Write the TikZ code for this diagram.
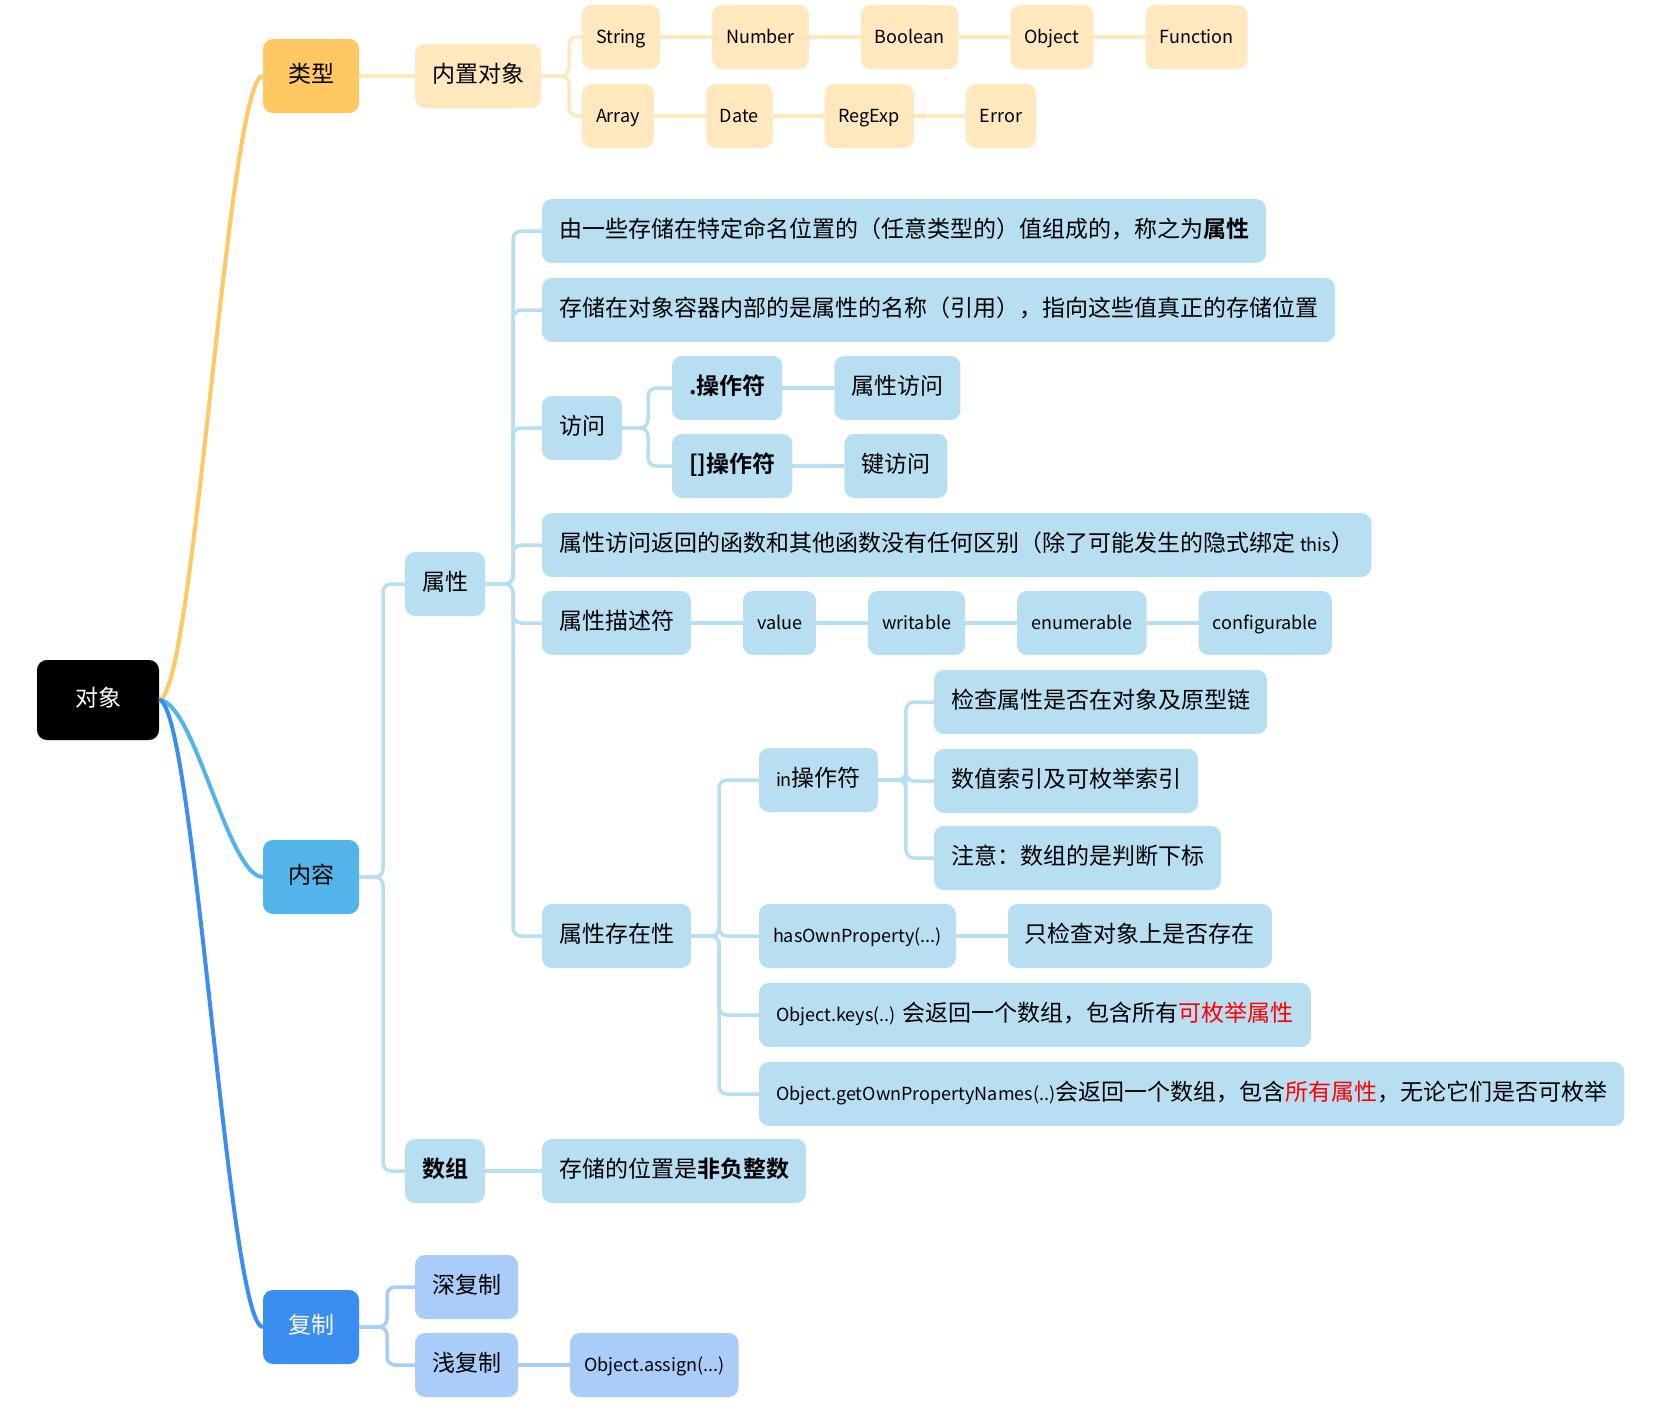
\documentclass[tikz,border=0pt]{standalone}
\usepackage{fontspec}
\setmainfont{Noto Sans CJK SC}[BoldFont={Noto Sans CJK SC Bold}]
\usetikzlibrary{positioning}

\definecolor{typeor}{HTML}{FFC862}
\definecolor{typelt}{HTML}{FFE7BE}
\definecolor{contbl}{HTML}{52B4E9}
\definecolor{contlt}{HTML}{B8DEF2}
\definecolor{copybl}{HTML}{3A8EEF}
\definecolor{copylt}{HTML}{A9CDF8}

\newcommand\lat[1]{{\fontsize{18}{26}\selectfont #1}}

\tikzset{
  box/.style={rounded corners=9pt, minimum height=62pt, inner xsep=16pt, inner ysep=2pt,
    text height=18pt, text depth=5pt, line width=2pt, font=\fontsize{23}{27}\selectfont},
  latin/.style={font=\fontsize{18}{27}\selectfont, inner xsep=13pt},
  topic/.style={box, minimum height=72pt, minimum width=94pt},
  orbox/.style={box, fill=typelt, draw=typelt},
  blbox/.style={box, fill=contlt, draw=contlt},
  cpbox/.style={box, fill=copylt, draw=copylt},
  orlink/.style={typelt, line width=3.5pt, rounded corners=8pt},
  bllink/.style={contlt, line width=3.5pt, rounded corners=8pt},
  cplink/.style={copylt, line width=3.5pt, rounded corners=8pt},
}

\begin{document}
\begin{tikzpicture}[x=1pt, y=-1pt]
      \useasboundingbox (0,0) rectangle (1673,1406);
      \node [topic, fill=black, draw=black, text=white, minimum width=120pt, minimum height=78pt] (obj) at (98,700) {对象};
      \node [topic, anchor=west, fill=typeor, draw=typeor] (type) at (263,76) {类型};
      \node [topic, anchor=west, fill=contbl, draw=contbl] (cont) at (263,877) {内容};
      \node [topic, anchor=west, fill=copybl, draw=copybl, text=white] (copy) at (263,1327) {复制};
      \draw [typeor, line width=4pt] (obj.east) .. controls +(35,0) and +(-35,0) .. (type.west);
      \draw [contbl, line width=4pt] (obj.east) .. controls +(35,0) and +(-35,0) .. (cont.west);
      \draw [copybl, line width=4pt] (obj.east) .. controls +(35,0) and +(-35,0) .. (copy.west);

      \node [orbox, anchor=west] (builtin) at (415,76) {内置对象};
      \node [orbox, latin, anchor=west] (str) at (582,37) {String};
      \node [orbox, latin, right=52pt of str] (num) {Number};
      \node [orbox, latin, right=52pt of num] (bool) {Boolean};
      \node [orbox, latin, right=52pt of bool] (objt) {Object};
      \node [orbox, latin, right=52pt of objt] (func) {Function};
      \node [orbox, latin, anchor=west] (arr) at (582,116) {Array};
      \node [orbox, latin, right=52pt of arr] (date) {Date};
      \node [orbox, latin, right=52pt of date] (regx) {RegExp};
      \node [orbox, latin, right=52pt of regx] (err) {Error};
      \draw [orlink] (type.east) -- (builtin.west);
      \draw [orlink] (builtin.east) -- ++(28,0) |- (str.west);
      \draw [orlink] (builtin.east) -- ++(28,0) |- (arr.west);
      \draw [orlink] (str.east) -- (num.west);
      \draw [orlink] (num.east) -- (bool.west);
      \draw [orlink] (bool.east) -- (objt.west);
      \draw [orlink] (objt.east) -- (func.west);
      \draw [orlink] (arr.east) -- (date.west);
      \draw [orlink] (date.east) -- (regx.west);
      \draw [orlink] (regx.east) -- (err.west);

      \node [blbox, anchor=west] (prop) at (405,584) {属性};
      \node [blbox, anchor=west] (arry) at (405,1171) {\textbf{数组}};
      \draw [bllink] (cont.east) -- ++(24,0) |- (prop.west);
      \draw [bllink] (cont.east) -- ++(24,0) |- (arry.west);

      \node [blbox, anchor=west] (named) at (542,231) {由一些存储在特定命名位置的（任意类型的）值组成的，称之为\textbf{属性}};
      \node [blbox, anchor=west] (stored) at (542,310) {存储在对象容器内部的是属性的名称（引用），指向这些值真正的存储位置};
      \node [blbox, anchor=west] (access) at (542,428) {访问};
      \node [blbox, anchor=west] (dotop) at (672,388) {\textbf{.操作符}};
      \node [blbox, right=52pt of dotop] (propacc) {属性访问};
      \node [blbox, anchor=west] (brkop) at (672,466) {\textbf{[]操作符}};
      \node [blbox, right=52pt of brkop] (keyacc) {键访问};
      \node [blbox, anchor=west] (nodiff) at (542,545) {属性访问返回的函数和其他函数没有任何区别（除了可能发生的隐式绑定 \lat{this}）};
      \node [blbox, anchor=west] (descr) at (542,623) {属性描述符};
      \node [blbox, latin, right=52pt of descr] (value) {value};
      \node [blbox, latin, right=52pt of value] (writ) {writable};
      \node [blbox, latin, right=52pt of writ] (enum) {enumerable};
      \node [blbox, latin, right=52pt of enum] (conf) {configurable};
      \node [blbox, anchor=west] (exist) at (542,936) {属性存在性};
      \draw [bllink] (prop.east) -- ++(28,0) |- (named.west);
      \draw [bllink] (prop.east) -- ++(28,0) |- (stored.west);
      \draw [bllink] (prop.east) -- ++(28,0) |- (access.west);
      \draw [bllink] (prop.east) -- ++(28,0) |- (nodiff.west);
      \draw [bllink] (prop.east) -- ++(28,0) |- (descr.west);
      \draw [bllink] (prop.east) -- ++(28,0) |- (exist.west);
      \draw [bllink] (access.east) -- ++(26,0) |- (dotop.west);
      \draw [bllink] (access.east) -- ++(26,0) |- (brkop.west);
      \draw [bllink] (dotop.east) -- (propacc.west);
      \draw [bllink] (brkop.east) -- (keyacc.west);
      \draw [bllink] (descr.east) -- (value.west);
      \draw [bllink] (value.east) -- (writ.west);
      \draw [bllink] (writ.east) -- (enum.west);
      \draw [bllink] (enum.east) -- (conf.west);

      \node [blbox, anchor=west] (inop) at (759,780) {\lat{in}操作符};
      \node [blbox, anchor=west] (chain) at (934,702) {检查属性是否在对象及原型链};
      \node [blbox, anchor=west] (index) at (934,781) {数值索引及可枚举索引};
      \node [blbox, anchor=west] (note) at (934,858) {注意：数组的是判断下标};
      \node [blbox, latin, anchor=west] (hasown) at (759,936) {hasOwnProperty(...)};
      \node [blbox, right=52pt of hasown] (onlyobj) {只检查对象上是否存在};
      \node [blbox, anchor=west] (keys) at (759,1015) {\lat{Object.keys(..)} 会返回一个数组，包含所有\textcolor{red}{可枚举属性}};
      \node [blbox, anchor=west] (names) at (759,1094) {\lat{Object.getOwnPropertyNames(..)}会返回一个数组，包含\textcolor{red}{所有属性}，无论它们是否可枚举};
      \draw [bllink] (exist.east) -- ++(28,0) |- (inop.west);
      \draw [bllink] (exist.east) -- ++(28,0) |- (hasown.west);
      \draw [bllink] (exist.east) -- ++(28,0) |- (keys.west);
      \draw [bllink] (exist.east) -- ++(28,0) |- (names.west);
      \draw [bllink] (inop.east) -- ++(28,0) |- (chain.west);
      \draw [bllink] (inop.east) -- ++(28,0) |- (index.west);
      \draw [bllink] (inop.east) -- ++(28,0) |- (note.west);
      \draw [bllink] (hasown.east) -- (onlyobj.west);

      \node [blbox, anchor=west] (nonneg) at (542,1171) {存储的位置是\textbf{非负整数}};
      \draw [bllink] (arry.east) -- (nonneg.west);

      \node [cpbox, anchor=west] (deep) at (415,1287) {深复制};
      \node [cpbox, anchor=west] (shallow) at (415,1365) {浅复制};
      \node [cpbox, latin, right=52pt of shallow] (assign) {Object.assign(...)};
      \draw [cplink] (copy.east) -- ++(28,0) |- (deep.west);
      \draw [cplink] (copy.east) -- ++(28,0) |- (shallow.west);
      \draw [cplink] (shallow.east) -- (assign.west);
    \end{tikzpicture}
\end{document}
